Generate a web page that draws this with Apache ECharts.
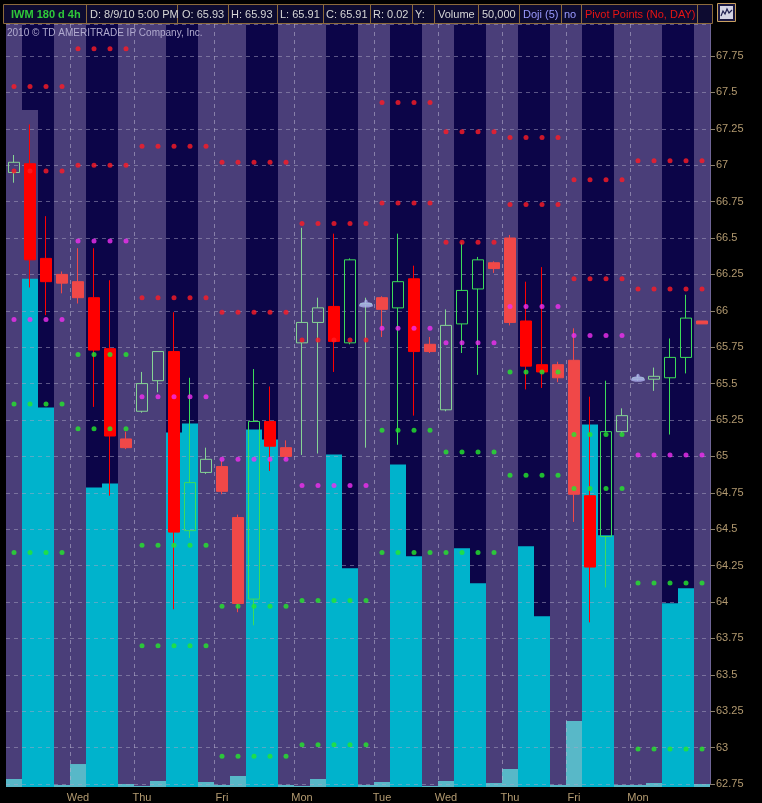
<!DOCTYPE html>
<html><head><meta charset="utf-8">
<script src="https://cdn.jsdelivr.net/npm/echarts@6/dist/echarts.min.js"></script>
<style>html,body{margin:0;padding:0;background:#000;}#c{width:762px;height:803px;}</style>
</head><body><div id="c"></div>
<script>
// ---------------- DATA ----------------
const categories = [
 '7/27 5:00','7/27 9:00','7/27 13:00','7/27 17:00',
 '7/28 5:00','7/28 9:00','7/28 13:00','7/28 17:00',
 '7/29 1:00','7/29 5:00','7/29 9:00','7/29 13:00','7/29 17:00',
 '7/30 1:00','7/30 5:00','7/30 9:00','7/30 13:00','7/30 17:00',
 '8/2 1:00','8/2 5:00','8/2 9:00','8/2 13:00','8/2 17:00',
 '8/3 5:00','8/3 9:00','8/3 13:00','8/3 17:00',
 '8/4 5:00','8/4 9:00','8/4 13:00','8/4 17:00',
 '8/5 5:00','8/5 9:00','8/5 13:00','8/5 17:00',
 '8/6 5:00','8/6 9:00','8/6 13:00','8/6 17:00',
 '8/9 1:00','8/9 5:00','8/9 9:00','8/9 13:00','8/9 17:00'
];
// 'E' = extended hours bar, 'R' = regular session bar
const session = ['E','R','R','E','E','R','R','E','E','E','R','R','E','E','E','R','R','E','E','E','R','R','E',
 'E','R','R','E','E','R','R','E','E','R','R','E','E','R','R','E','E','E','R','R','E'];
// height of the lighter session-shade column (same units as volume; 76.4 = full height)
const shadeVal = [76.4,67.8,0,76.4,76.4,0,0,76.4,76.4,76.4,0,0,76.4,76.4,76.4,0,0,76.4,76.4,76.4,0,0,76.4,
 76.4,0,0,76.4,76.4,0,0,76.4,76.4,0,0,76.4,76.4,0,0,76.4,76.4,76.4,0,0,76.4];
const openP  = [66.95,67.01,66.36,66.25,66.20,66.09,65.74,65.12,65.31,65.52,65.72,64.49,64.89,64.93,64.58,64.02,65.24,65.06,65.78,65.92,66.03,65.78,66.04,
 66.09,66.02,66.22,65.77,65.32,65.91,66.15,66.33,66.50,65.93,65.63,65.63,65.66,64.73,64.45,65.17,65.53,65.53,65.54,65.68,65.93];
const highP  = [67.07,67.28,66.65,66.27,66.43,66.43,66.21,65.17,65.58,65.72,65.99,65.54,65.06,64.97,64.60,65.60,65.48,65.11,66.57,66.09,66.53,66.36,66.09,
 66.10,66.53,66.31,65.82,66.01,66.47,66.37,66.34,66.52,66.20,66.30,65.65,65.88,65.41,65.52,65.33,65.56,65.61,65.81,66.11,65.93];
const lowP   = [66.88,66.16,65.97,66.12,66.05,65.34,64.73,65.05,65.30,65.44,63.95,64.44,64.88,64.74,63.93,63.84,64.90,64.98,65.01,65.02,65.58,65.77,65.06,
 65.82,65.08,65.28,65.71,65.31,65.71,65.56,66.26,65.90,65.46,65.47,65.51,64.55,63.86,64.10,65.16,65.52,65.45,65.15,65.57,65.91];
const closeP = [67.02,66.35,66.20,66.19,66.09,65.73,65.14,65.06,65.50,65.72,64.48,64.82,64.98,64.76,63.99,65.24,65.07,65.00,65.92,66.02,65.79,66.35,66.05,
 66.01,66.20,65.72,65.72,65.90,66.14,66.35,66.29,65.92,65.62,65.58,65.54,64.74,64.24,65.17,65.28,65.54,65.55,65.68,65.95,65.91];
// volume, millions of shares
const volume = [0.8,50.9,38.0,0.2,2.3,30.0,30.4,0.3,0.1,0.6,35.5,36.4,0.5,0.2,1.1,35.8,34.8,0.2,0.1,0.8,33.3,21.9,0.2,
 0.5,32.3,23.1,0.1,0.6,23.9,20.4,0.4,1.8,24.1,17.1,0.2,6.6,36.3,25.2,0.2,0.2,0.4,18.4,19.9,0.3];
// daily pivot levels
const dayStart = [0,4,8,13,18,23,27,31,35,39];
const dayName  = ['Tue','Wed','Thu','Fri','Mon','Tue','Wed','Thu','Fri','Mon'];
const pivR2 = [67.54,67.80,67.13,67.02,66.60,67.43,67.23,67.19,66.90,67.03];
const pivR1 = [66.96,67.00,66.09,65.99,65.80,66.74,66.47,66.73,66.22,66.15];
const pivPP = [65.94,66.48,65.41,64.98,64.80,65.88,65.78,66.03,65.83,65.01];
const pivS1 = [65.36,65.70,64.39,63.97,64.01,65.18,65.03,65.58,65.15,64.13];
const pivS2 = [64.34,65.19,63.70,62.94,63.02,64.34,64.34,64.87,64.78,62.99];
// doji markers
const dojiIdx = [22,39];
const dojiVal = [66.05,65.54];
// right-axis value badges
const badgeVals = [67.03,66.15,65.91,65.54,65.01,64.13,62.99];
const yTickMin = 62.75, yTickStep = 0.25;

// ---------------- STYLE ----------------
const NAVY='#0c0548', PURPLE='#4a3e79';
const badgeBg = ['#ff0f0f','#ff0f0f','#ff1a1a','#a8a8f4','#ff00ff','#00ff00','#00ff00'];
const badgeFg = ['#8a0000','#8a0000','#ffe6e6','#1a1a60','#7a007a','#005a00','#005a00'];
const N = categories.length;
function spread(arr){const out=new Array(N).fill(null);dayStart.forEach((s,d)=>{const e=d+1<dayStart.length?dayStart[d+1]:N;for(let i=s;i<e;i++)out[i]=arr[d];});return out;}
const VOLMAX = 76.4;

const candleData = categories.map((c,i)=>{
  const ext = session[i]==='E';
  const isUp = closeP[i] >= openP[i];
  const up = ext ? '#86d494' : '#3ddc5a';
  const dn = ext ? '#f04848' : '#ff0000';
  const st = isUp ? {color:'rgba(0,0,0,0)',color0:'rgba(0,0,0,0)',borderColor:up,borderColor0:up,borderWidth:1}
                  : {color:dn,color0:dn,borderColor:dn,borderColor0:dn,borderWidth:1};
  return {value:[openP[i],closeP[i],lowP[i],highP[i]],itemStyle:st};
});
const volData = volume.map((v,i)=>({value:v,itemStyle:{color: session[i]==='E'?'#58b8c8':'#00b3cc'}}));
const dayStartSet = new Set(dayStart.slice(1));
const labelAt = {}; dayStart.forEach((s,d)=>{ if(d>0) labelAt[s]=dayName[d]; });

const FONT='"Liberation Sans", Arial, sans-serif';
const TAN='#b39a70';

function pivotSeries(arr,color){
  return {type:'scatter',xAxisIndex:1,yAxisIndex:1,data:spread(arr),symbol:'circle',symbolSize:5,
    itemStyle:{color:color},z:4,silent:true};
}

// header
const hdr = [
 ['IWM 180 d 4h',11,'#2fc93a',true],
 ['D: 8/9/10 5:00 PM',90,'#d6d6d6'],
 ['O: 65.93',182,'#d6d6d6'],
 ['H: 65.93',231,'#d6d6d6'],
 ['L: 65.91',280,'#d6d6d6'],
 ['C: 65.91',326,'#d6d6d6'],
 ['R: 0.02',373,'#d6d6d6'],
 ['Y:',415,'#d6d6d6'],
 ['Volume',438,'#d6d6d6'],
 ['50,000',482,'#d6d6d6'],
 ['Doji (5)',523,'#9a9aff'],
 ['no',564,'#9a9aff'],
 ['Pivot Points (No, DAY)',585,'#e81414']
];
const seps=[86,177,228,277,323,370,412,434,478,519,561,581,697];
const gEls=[
 {type:'rect',shape:{x:0,y:0,width:762,height:24},style:{fill:'#000'}},
 {type:'rect',shape:{x:3.5,y:4.5,width:709,height:19},style:{fill:'#0d0b30',stroke:'#8c6a3c',lineWidth:1}}
];
seps.forEach(x=>gEls.push({type:'line',shape:{x1:x+0.5,y1:5,x2:x+0.5,y2:23},style:{stroke:'#8c6a3c',lineWidth:1}}));
hdr.forEach(h=>gEls.push({type:'text',x:h[1],y:14.5,style:{text:h[0],fill:h[2],font:(h[3]?'bold ':'')+'11px '+FONT,verticalAlign:'middle'}}));
gEls.push({type:'rect',shape:{x:717.5,y:3.5,width:18,height:18},style:{fill:'#1a1840',stroke:'#c8a060',lineWidth:1}});
gEls.push({type:'rect',shape:{x:720,y:6,width:13,height:13},style:{fill:'#d4d4e4'}});
gEls.push({type:'polyline',shape:{points:[[721,16],[723,11],[725,14],[727,9],[729,13],[732,10]]},style:{stroke:'#202050',lineWidth:1.2,fill:null}});
gEls.push({type:'text',x:7,y:33,style:{text:'2010 \u00A9 TD AMERITRADE IP Company, Inc.',fill:'#b0aace',font:'10px '+FONT,verticalAlign:'middle'}});
gEls.forEach(e=>{e.z=100;e.silent=true;});

const chart = echarts.init(document.getElementById('c'),null,{renderer:'canvas'});
chart.setOption({
  animation:false,
  backgroundColor:'#000',
  grid:[
    {left:6,top:24,width:704,height:764,backgroundColor:NAVY,show:true,borderWidth:0},
    {left:6,top:24,width:704,height:760,show:false}
  ],
  xAxis:[
    {type:'category',gridIndex:0,data:categories,boundaryGap:true,
     axisLine:{show:false},axisTick:{show:false},splitLine:{show:false},
     axisLabel:{show:true,interval:(i)=>labelAt[i]!==undefined,formatter:(v,i)=>labelAt[i]||'',
       color:TAN,fontFamily:FONT,fontSize:11,margin:5}},
    {type:'category',gridIndex:1,data:categories,boundaryGap:true,z:2,
     axisLine:{show:false},axisTick:{show:false},axisLabel:{show:false},
     splitLine:{show:true,interval:(i)=>dayStartSet.has(i),lineStyle:{color:'rgba(185,180,210,0.55)',type:[4,4],width:1}}}
  ],
  yAxis:[
    {type:'value',gridIndex:0,min:0,max:VOLMAX,show:false,splitLine:{show:false}},
    {type:'value',gridIndex:1,position:'right',min:yTickMin,max:yTickMin+760/145.6,interval:yTickStep,z:2,
     axisLine:{show:true,lineStyle:{color:'#6e6496',width:1}},
     axisTick:{show:true,length:5,lineStyle:{color:'#8a8070'}},
     axisLabel:{color:TAN,fontFamily:FONT,fontSize:11,margin:6,showMaxLabel:false,showMinLabel:true},
     splitLine:{show:true,lineStyle:{color:'rgba(170,165,195,0.5)',type:[4,4],width:1}}}
  ],
  series:[
    {type:'bar',name:'shade',xAxisIndex:0,yAxisIndex:0,data:shadeVal,barWidth:'100%',barGap:'-100%',
     itemStyle:{color:PURPLE},z:1,silent:true},
    {type:'bar',name:'volume',xAxisIndex:0,yAxisIndex:0,data:volData,barWidth:'100%',barGap:'-100%',z:1,silent:true},
    {type:'candlestick',name:'IWM',xAxisIndex:1,yAxisIndex:1,data:candleData,barWidth:11,z:3,silent:true},
    pivotSeries(pivR2,'#ff1c24'),
    pivotSeries(pivR1,'#ff1c24'),
    pivotSeries(pivPP,'#f030f0'),
    pivotSeries(pivS1,'#24e82c'),
    pivotSeries(pivS2,'#24e82c'),
    {type:'scatter',name:'doji',xAxisIndex:1,yAxisIndex:1,z:5,silent:true,
     data:dojiIdx.map((ix,k)=>[ix,dojiVal[k]]),
     symbol:'path://M1,7 C1,5 4,4 7,4 C7,1 11,1 11,4 C14,4 17,5 17,7 C17,9 1,9 1,7 Z',symbolSize:[14,8],
     itemStyle:{color:'#aeb0ee'},
     markLine:{silent:true,symbol:['none','none'],animation:false,lineStyle:{opacity:0},
       label:{show:true,position:'end',distance:5,fontFamily:FONT,fontSize:11,padding:[1,3,0,3],borderRadius:3,
         formatter:(p)=>Number(p.value).toFixed(2)},
       data:badgeVals.map((v,k)=>({yAxis:v,label:{backgroundColor:badgeBg[k],color:badgeFg[k]}}))}}
  ],
  graphic:{elements:gEls}
});
</script></body></html>
